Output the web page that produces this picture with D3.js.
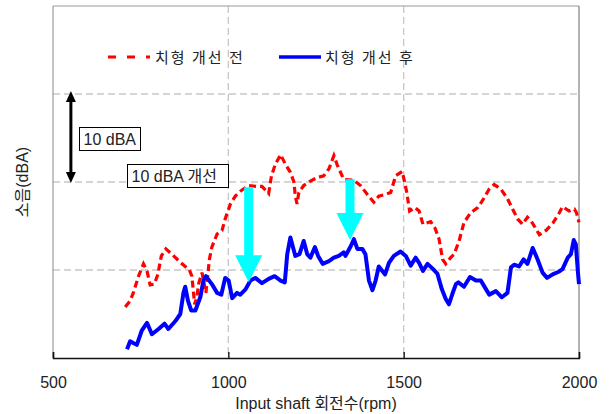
<!DOCTYPE html>
<html>
<head>
<meta charset="utf-8">
<script src="https://cdn.jsdelivr.net/npm/d3@7"></script>
<style>
    body { margin: 0; background: #fff; }
</style>
</head>
<body>
<script>
    var rpmBefore = [706, 720, 729, 744, 758, 768, 777, 789, 799, 809, 822, 844, 868, 889, 896, 904, 911, 915, 925, 936,
        946, 953, 968, 982, 991, 1006, 1020, 1039, 1058, 1082, 1096, 1108, 1115, 1123, 1134, 1149, 1163, 1177, 1187, 1191,
        1196, 1201, 1215, 1234, 1253, 1272, 1287, 1301, 1311, 1329, 1358, 1377, 1396, 1415, 1429, 1449, 1463, 1477, 1496, 1508,
        1517, 1532, 1544, 1555, 1577, 1589, 1601, 1611, 1620, 1634, 1644, 1658, 1672, 1691, 1711, 1725, 1744, 1758, 1777, 1796,
        1811, 1825, 1839, 1853, 1863, 1877, 1887, 1906, 1925, 1944, 1953, 1972, 1987, 1993, 2000];
    var dbaBefore = [55.8, 56.5, 57.4, 59.3, 60.7, 59.9, 58.3, 58.4, 59.5, 61.6, 62.4, 61.6, 60.7, 60.0, 59.3, 56.1, 57.1, 58.4, 59.7, 57.4,
        61.2, 62.6, 64.1, 64.5, 65.8, 67.5, 68.4, 69.1, 69.6, 69.5, 69.5, 69.0, 68.7, 70.7, 72.0, 73.1, 72.0, 71.1, 70.0, 68.4,
        67.5, 68.8, 69.6, 70.1, 70.5, 70.7, 71.5, 73.0, 71.9, 70.3, 70.2, 69.6, 68.6, 67.7, 68.4, 68.6, 68.8, 70.7, 71.2, 69.0,
        66.7, 67.1, 66.7, 65.2, 65.5, 64.8, 63.5, 61.2, 60.7, 61.4, 61.8, 63.3, 65.4, 66.5, 67.1, 67.9, 69.2, 69.7, 69.2, 68.1,
        66.9, 65.8, 65.2, 66.0, 65.6, 64.7, 64.0, 64.5, 65.3, 66.5, 67.2, 66.7, 66.9, 66.5, 65.4];

    var rpmAfter = [711, 720, 729, 739, 753, 768, 782, 801, 818, 829, 849, 863, 872, 877, 885, 894, 906, 920, 929, 936,
        953, 968, 980, 991, 1001, 1011, 1025, 1034, 1049, 1063, 1077, 1096, 1115, 1132, 1149, 1161, 1168, 1177, 1191, 1203,
        1215, 1225, 1234, 1247, 1256, 1269, 1287, 1301, 1315, 1329, 1334, 1349, 1358, 1368, 1382, 1391, 1401, 1411, 1420, 1429,
        1447, 1458, 1472, 1491, 1506, 1520, 1534, 1544, 1555, 1568, 1584, 1596, 1609, 1620, 1629, 1639, 1649, 1656, 1672, 1689,
        1706, 1720, 1732, 1744, 1763, 1780, 1796, 1806, 1815, 1829, 1842, 1853, 1868, 1882, 1896, 1909, 1925, 1942, 1953, 1968,
        1977, 1985, 1991, 1997, 2000];
    var dbaAfter = [51.0, 51.9, 51.7, 51.5, 53.1, 54.0, 52.7, 53.3, 53.9, 53.3, 54.2, 55.0, 57.4, 58.1, 56.5, 55.4, 55.4, 56.9, 58.8, 59.3,
        58.4, 57.4, 57.2, 59.1, 58.8, 56.8, 57.4, 57.2, 57.8, 58.8, 59.1, 58.5, 59.0, 59.3, 58.8, 58.6, 61.8, 63.7, 61.6, 61.8,
        63.3, 61.8, 61.4, 62.6, 61.6, 60.7, 61.0, 61.4, 61.6, 62.0, 61.6, 62.7, 63.5, 62.4, 62.4, 61.8, 58.8, 57.7, 58.8, 60.4,
        59.5, 60.8, 61.6, 62.1, 61.6, 60.5, 61.4, 60.8, 59.9, 60.7, 60.1, 59.6, 57.8, 56.7, 56.1, 57.3, 58.4, 58.6, 58.1, 59.2,
        58.8, 58.8, 58.0, 57.2, 57.6, 56.9, 57.4, 60.3, 60.6, 60.4, 61.2, 60.7, 62.5, 61.2, 59.7, 59.1, 59.5, 59.8, 60.1, 61.4,
        61.8, 63.4, 62.9, 59.7, 58.4];

    var xTicks = [500, 1000, 1500, 2000];
    var yGrid = [60, 70, 80];
    var legendLabels = ["치형 개선 전", "치형 개선 후"];
    var drops = [{ rpm: 1058, from: 69.4, to: 58.6 }, { rpm: 1347, from: 70.3, to: 63.4 }];
    var scaleMark = { rpm: 551, from: 80, to: 70 };

    var fontLatin = "'Liberation Sans', Arial, 'Noto Sans CJK KR', sans-serif";
    var fontKr = "'Noto Sans CJK KR', 'Liberation Sans', sans-serif";

    var svg = d3.select("body").append("svg").attr("width", 612).attr("height", 414);
    svg.append("rect").attr("width", 612).attr("height", 414).attr("fill", "#fff");

    var x = d3.scaleLinear().domain([500, 2000]).range([53, 579]);
    var y = d3.scaleLinear().domain([50, 90]).range([358, 6]);

    // grid
    svg.append("g").selectAll("line").data(yGrid).enter().append("line")
        .attr("x1", x(500)).attr("x2", x(2000))
        .attr("y1", function (d) { return y(d); }).attr("y2", function (d) { return y(d); })
        .attr("stroke", "#c8c8c8").attr("stroke-width", 1.3).attr("stroke-dasharray", "7,4");
    svg.append("g").selectAll("line").data([1000, 1500]).enter().append("line")
        .attr("y1", y(90)).attr("y2", y(50))
        .attr("x1", function (d) { return x(d); }).attr("x2", function (d) { return x(d); })
        .attr("stroke", "#c8c8c8").attr("stroke-width", 1.3).attr("stroke-dasharray", "7,4");

    // frame
    svg.append("line").attr("x1", x(500)).attr("x2", x(500)).attr("y1", y(90)).attr("y2", y(50))
        .attr("stroke", "#9a9a9a").attr("stroke-width", 1.2);
    svg.append("line").attr("x1", x(500)).attr("x2", x(2000)).attr("y1", y(90)).attr("y2", y(90))
        .attr("stroke", "#9a9a9a").attr("stroke-width", 1.2);
    svg.append("line").attr("x1", x(2000)).attr("x2", x(2000)).attr("y1", y(90)).attr("y2", y(50))
        .attr("stroke", "#808080").attr("stroke-width", 1.2);

    var xAxis = d3.axisBottom(x).tickValues(xTicks).tickFormat(d3.format("d"))
        .tickSizeInner(-6).tickSizeOuter(-6).tickPadding(19);
    var gx = svg.append("g").attr("transform", "translate(0," + y(50) + ")").call(xAxis);
    gx.selectAll("path, line").attr("stroke", "#111").attr("stroke-width", 1.4);
    gx.selectAll("text").attr("font-family", fontLatin).attr("font-size", 16).attr("fill", "#222");

    svg.append("text").attr("x", 316).attr("y", 409).attr("text-anchor", "middle")
        .attr("font-family", fontLatin).attr("font-size", 16).attr("fill", "#222")
        .text("Input shaft 회전수(rpm)");
    svg.append("text").attr("transform", "translate(28,182) rotate(-90)").attr("text-anchor", "middle")
        .attr("font-family", fontLatin).attr("font-size", 16).attr("fill", "#222")
        .text("소음(dBA)");

    // series
    var line = d3.line().x(function (d) { return x(d[0]); }).y(function (d) { return y(d[1]); });
    svg.append("path").datum(d3.zip(rpmBefore, dbaBefore)).attr("d", line)
        .attr("fill", "none").attr("stroke", "#ff0000").attr("stroke-width", 3.2).attr("stroke-dasharray", "7,4");
    svg.append("path").datum(d3.zip(rpmAfter, dbaAfter)).attr("d", line)
        .attr("fill", "none").attr("stroke", "#0000ff").attr("stroke-width", 4).attr("stroke-linejoin", "round");

    // cyan arrows
    drops.forEach(function (a) {
        var cx = x(a.rpm), top = y(a.from), tip = y(a.to), head = 27;
        var pts = [[cx - 4.5, top], [cx + 4.5, top], [cx + 4.5, tip - head], [cx + 13.5, tip - head],
            [cx, tip], [cx - 13.5, tip - head], [cx - 4.5, tip - head]];
        svg.append("polygon").attr("points", pts.join(" ")).attr("fill", "#00ffff");
    });

    // 10 dBA scale arrow
    var ax = x(scaleMark.rpm), ay1 = y(scaleMark.from) - 3, ay2 = y(scaleMark.to) + 1;
    svg.append("line").attr("x1", ax).attr("x2", ax).attr("y1", ay1 + 8).attr("y2", ay2 - 8)
        .attr("stroke", "#000").attr("stroke-width", 3);
    svg.append("polygon").attr("points", [[ax, ay1], [ax + 5, ay1 + 11], [ax - 5, ay1 + 11]].join(" ")).attr("fill", "#000");
    svg.append("polygon").attr("points", [[ax, ay2], [ax + 5, ay2 - 11], [ax - 5, ay2 - 11]].join(" ")).attr("fill", "#000");

    function labelBox(x0, y0, w, h, txt) {
        svg.append("rect").attr("x", x0).attr("y", y0).attr("width", w).attr("height", h)
            .attr("fill", "#fff").attr("stroke", "#000").attr("stroke-width", 1);
        svg.append("text").attr("x", x0 + 4).attr("y", y0 + h / 2 + 6)
            .attr("font-family", fontLatin).attr("font-size", 16).attr("fill", "#222").text(txt);
    }
    labelBox(79.5, 127.5, 61, 23, "10 dBA");
    labelBox(127.5, 164.5, 101, 23, "10 dBA 개선");

    // legend
    svg.append("line").attr("x1", 108).attr("x2", 150).attr("y1", 57).attr("y2", 57)
        .attr("stroke", "#ff0000").attr("stroke-width", 3).attr("stroke-dasharray", "8,11");
    svg.append("line").attr("x1", 279).attr("x2", 321).attr("y1", 57).attr("y2", 57)
        .attr("stroke", "#0000ff").attr("stroke-width", 3.5);
    svg.append("text").attr("x", 155).attr("y", 63).attr("font-family", fontKr).attr("font-size", 15)
        .attr("letter-spacing", 2).attr("fill", "#222").text(legendLabels[0]);
    svg.append("text").attr("x", 325).attr("y", 63).attr("font-family", fontKr).attr("font-size", 15)
        .attr("letter-spacing", 2).attr("fill", "#222").text(legendLabels[1]);
</script>
</body>
</html>
